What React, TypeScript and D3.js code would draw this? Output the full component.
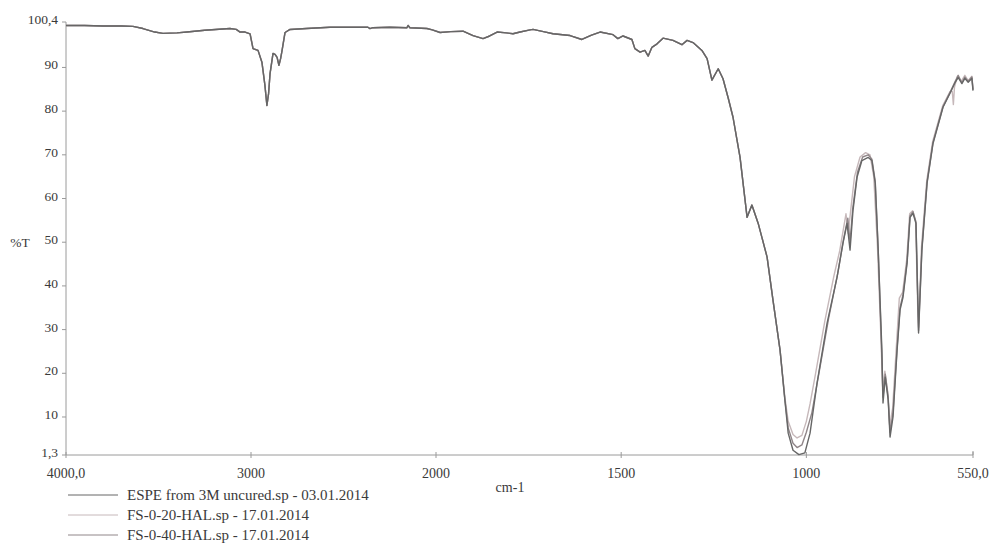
import React from "react";
import * as d3 from "d3";

type Pt = [number, number];

// Shared part of the spectra (4000 - 1071 cm-1)
const sharedHigh: Pt[] = [
  [4000, 99.6], [3900, 99.6], [3800, 99.5], [3700, 99.5], [3638, 99.4], [3584, 98.9],
  [3520, 98.1], [3476, 97.8], [3400, 97.9], [3346, 98.1], [3250, 98.5], [3114, 98.9],
  [3080, 98.7], [3059, 98.1], [3032, 98.1], [3005, 97.7], [2989, 94.3], [2962, 93.9],
  [2941, 91.2], [2925, 86.0], [2914, 81.3], [2905, 84.0], [2897, 88.6], [2881, 93.2],
  [2870, 93.0], [2859, 92.3], [2849, 90.5], [2840, 92.0], [2832, 93.9], [2816, 98.0],
  [2789, 98.7], [2700, 98.9], [2573, 99.2], [2450, 99.2], [2368, 99.2], [2357, 98.9],
  [2341, 99.1], [2250, 99.2], [2157, 99.1], [2151, 99.6], [2141, 99.1], [2049, 98.9],
  [2020, 98.6], [1989, 98.0], [1960, 98.2], [1927, 98.3], [1900, 97.3], [1873, 96.6],
  [1855, 97.2], [1835, 98.1], [1810, 97.9], [1792, 97.7], [1773, 98.1], [1746, 98.6],
  [1738, 98.7], [1710, 98.2], [1684, 97.7], [1638, 97.3], [1606, 96.4], [1580, 97.4],
  [1557, 98.1], [1522, 97.5], [1509, 96.6], [1495, 97.2], [1471, 96.4], [1463, 94.3],
  [1449, 93.5], [1436, 93.9], [1427, 92.6], [1417, 94.6], [1403, 95.4], [1387, 96.7],
  [1360, 96.2], [1336, 95.2], [1322, 96.2], [1306, 95.7], [1282, 93.9], [1268, 92.0],
  [1255, 87.1], [1238, 89.7], [1225, 87.4], [1211, 83.0], [1198, 78.6], [1179, 69.4],
  [1160, 55.7], [1147, 58.5], [1130, 54.3], [1106, 46.6], [1090, 36.7], [1071, 25.3],
];

const espeLow: Pt[] = [
  [1071, 25.3], [1058, 13.9], [1049, 6.3], [1036, 2.4], [1020, 1.4], [1004, 1.8],
  [990, 6.3], [971, 17.8], [944, 31.5], [917, 42.0], [901, 49.8], [890, 54.3],
  [882, 48.2], [874, 57.3], [863, 64.9], [850, 68.7], [833, 69.4], [823, 68.7],
  [814, 63.5], [806, 48.2], [796, 25.3], [793, 13.2], [787, 19.1], [779, 13.9],
  [774, 5.4], [766, 10.0], [755, 25.3], [747, 34.5], [739, 37.4], [728, 45.2],
  [720, 55.7], [712, 56.6], [704, 54.3], [698, 32.9], [697, 29.2], [688, 48.2],
  [674, 63.5], [658, 72.6], [631, 80.9], [612, 84.1], [598, 86.6], [590, 87.7],
  [580, 86.3], [572, 87.5], [563, 86.6], [553, 87.5], [550, 84.7],
];

const fs20Low: Pt[] = [
  [1071, 25.3], [1058, 14.5], [1049, 9.0], [1036, 6.0], [1025, 5.2], [1012, 5.8],
  [1000, 9.0], [990, 13.0], [975, 20.0], [950, 32.0], [925, 42.5], [910, 48.0],
  [900, 53.0], [893, 56.5], [887, 52.0], [880, 57.5], [870, 65.0], [855, 69.5],
  [840, 70.5], [828, 70.0], [818, 65.0], [808, 49.0], [798, 27.0], [794, 16.0],
  [788, 20.5], [780, 15.5], [775, 8.0], [767, 12.0], [757, 26.0], [749, 37.2],
  [740, 38.5], [729, 46.0], [721, 56.5], [713, 57.2], [705, 55.0], [699, 34.0],
  [697, 30.5], [689, 49.0], [675, 64.0], [659, 73.0], [632, 81.2], [612, 84.5],
  [606, 84.5], [603, 81.5], [600, 85.5], [592, 88.0], [582, 86.8], [572, 88.2],
  [563, 87.0], [553, 88.0], [550, 85.0],
];

const fs40Low: Pt[] = [
  [1071, 25.3], [1058, 14.0], [1049, 7.5], [1036, 4.0], [1025, 3.0], [1012, 3.6],
  [1000, 6.5], [985, 11.0], [965, 20.5], [940, 32.5], [915, 43.0], [900, 50.5],
  [888, 55.5], [882, 50.0], [875, 57.5], [862, 66.0], [848, 69.5], [833, 70.0],
  [823, 69.0], [814, 64.0], [806, 48.5], [797, 26.0], [793, 14.5], [787, 19.8],
  [779, 14.5], [774, 6.5], [766, 11.0], [755, 25.8], [747, 35.0], [739, 38.0],
  [728, 45.6], [720, 56.0], [712, 57.0], [704, 54.6], [698, 33.5], [697, 29.8],
  [688, 48.6], [674, 63.8], [658, 72.8], [631, 81.0], [612, 84.3], [598, 86.8],
  [590, 88.2], [580, 86.5], [572, 87.8], [563, 86.8], [553, 87.8], [550, 84.9],
];

const seriesNames = [
  "ESPE from 3M uncured.sp - 03.01.2014",
  "FS-0-20-HAL.sp - 17.01.2014",
  "FS-0-40-HAL.sp - 17.01.2014",
];
const seriesColors = ["#666666", "#c6b8ba", "#908689"];

const xTicks = [4000, 3000, 2000, 1500, 1000, 550];
const xTickLabels = ["4000,0", "3000", "2000", "1500", "1000", "550,0"];
const yTicks = [100.4, 90, 80, 70, 60, 50, 40, 30, 20, 10, 1.3];
const yTickLabels = ["100,4", "90", "80", "70", "60", "50", "40", "30", "20", "10", "1,3"];

export default function App() {
  const W = 992;
  const H = 543;
  const left = 66;
  const right = 973;
  const top = 22;
  const bottom = 455;

  // PerkinElmer-style axis with 2x expansion below 2000 cm-1
  const x = d3.scaleLinear().domain([4000, 2000, 550]).range([left, 436, right]);
  const y = d3.scaleLinear().domain([1.3, 100.4]).range([bottom, top]);

  const line = d3
    .line<Pt>()
    .x((d) => x(d[0]))
    .y((d) => y(d[1]))
    .curve(d3.curveLinear);

  const series: Pt[][] = [
    sharedHigh.concat(espeLow.slice(1)),
    sharedHigh.concat(fs20Low.slice(1)),
    sharedHigh.concat(fs40Low.slice(1)),
  ];

  const font = "'Liberation Serif', 'DejaVu Serif', serif";
  const textColor = "#3a3a3a";
  const axisColor = "#9a9a9a";

  return (
    <svg
      width={W}
      height={H}
      style={{ position: "absolute", left: 0, top: 0, background: "#fff" }}
      fontFamily={font}
    >
      {/* axes */}
      <line x1={left} x2={left} y1={top} y2={bottom} stroke={axisColor} strokeWidth={1} />
      <line x1={left} x2={right} y1={bottom} y2={bottom} stroke={axisColor} strokeWidth={1} />
      <line x1={right} x2={right} y1={bottom - 4} y2={bottom} stroke={axisColor} strokeWidth={1} />

      {yTicks.map((t, i) => (
        <g key={"y" + i}>
          <line x1={left - 4} x2={left} y1={y(t)} y2={y(t)} stroke={axisColor} />
          <text
            x={58}
            y={y(t) + 2}
            textAnchor="end"
            fontSize={13.5}
            fill={textColor}
          >
            {yTickLabels[i]}
          </text>
        </g>
      ))}

      {xTicks.map((t, i) => (
        <g key={"x" + i}>
          <line x1={x(t)} x2={x(t)} y1={bottom - 3} y2={bottom + 3} stroke={axisColor} />
          <text
            x={x(t)}
            y={478}
            textAnchor="middle"
            fontSize={14}
            fill={textColor}
          >
            {xTickLabels[i]}
          </text>
        </g>
      ))}

      <text x={20} y={247} textAnchor="middle" fontSize={13.5} fill={textColor}>
        %T
      </text>
      <text x={510} y={492} textAnchor="middle" fontSize={14} fill={textColor}>
        cm-1
      </text>

      {/* spectra: draw lighter first so darkest sits on top */}
      {[1, 2, 0].map((si) => (
        <path
          key={"s" + si}
          d={line(series[si]) || ""}
          fill="none"
          stroke={seriesColors[si]}
          strokeWidth={1.4}
          strokeLinejoin="round"
        />
      ))}

      {/* legend */}
      {seriesNames.map((name, i) => (
        <g key={"l" + i}>
          <line
            x1={68}
            x2={118}
            y1={495 + i * 20}
            y2={495 + i * 20}
            stroke={seriesColors[i]}
            strokeWidth={1}
          />
          <text x={127} y={500 + i * 20} fontSize={15} fill={textColor}>
            {name}
          </text>
        </g>
      ))}
    </svg>
  );
}
